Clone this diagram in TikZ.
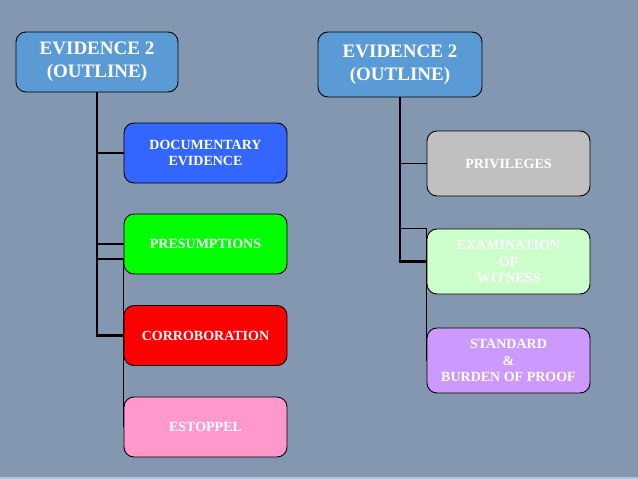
\documentclass[tikz,border=0pt]{standalone}
\usepackage{fontspec}
\setmainfont{Liberation Serif}
\definecolor{bg}{HTML}{8497B0}
\definecolor{strip}{HTML}{B4C3D8}
\definecolor{rootc}{HTML}{5B9BD5}
\definecolor{docc}{HTML}{3366FF}
\definecolor{presc}{HTML}{00FF00}
\definecolor{corrc}{HTML}{FF0000}
\definecolor{estc}{HTML}{FF99CC}
\definecolor{privc}{HTML}{C0C0C0}
\definecolor{examc}{HTML}{CCFFCC}
\definecolor{stdc}{HTML}{CC99FF}
\tikzset{
  box/.style={draw=black, line width=0.9pt, rounded corners=10pt, text=white,
    font=\bfseries\fontsize{14}{16.8}\selectfont, align=center, inner sep=0pt},
  rootbox/.style={box, fill=rootc, font=\bfseries\fontsize{19}{23}\selectfont},
  trunk/.style={draw=black, line width=2.6pt},
  branch/.style={draw=black, line width=1.8pt},
}
\begin{document}
\begin{tikzpicture}[x=1pt,y=-1pt]
\fill[bg] (0,0) rectangle (638,479);
\fill[strip] (0,476.5) rectangle (638,479);
\useasboundingbox (0,0) rectangle (638,479);

% left tree
\node[rootbox, minimum width=162pt, minimum height=60pt] (r1) at (97,62) {EVIDENCE 2\\(OUTLINE)};
\node[box, fill=docc, minimum width=163pt, minimum height=60pt] (doc) at (205.5,153) {DOCUMENTARY\\EVIDENCE};
\node[box, fill=presc, minimum width=163pt, minimum height=60pt] (pres) at (205.5,244) {PRESUMPTIONS};
\node[box, fill=corrc, minimum width=163pt, minimum height=60pt] (corr) at (205.5,335.5) {CORROBORATION};
\node[box, fill=estc, minimum width=163pt, minimum height=60pt] (est) at (205.5,427) {ESTOPPEL};
\coordinate (k1) at (123.5,259);

% right tree
\node[rootbox, minimum width=164pt, minimum height=65pt] (r2) at (400,64.5) {EVIDENCE 2\\(OUTLINE)};
\node[box, fill=privc, minimum width=163pt, minimum height=65pt] (priv) at (508.5,163.5) {PRIVILEGES};
\node[box, fill=examc, minimum width=163pt, minimum height=65pt] (exam) at (508.5,261.5) {EXAMINATION\\OF\\ WITNESS};
\node[box, fill=stdc, minimum width=163pt, minimum height=65pt] (std) at (508.5,360.5) {STANDARD\\\&\\BURDEN OF PROOF};

% left connectors
\draw[trunk] (r1.south) |- (corr.west);
\draw[branch] (r1.south |- doc.west) -- (doc.west);
\draw[branch] (r1.south |- pres.west) -- (pres.west);
\draw[branch] (r1.south |- k1) -- (k1) -- (k1 |- est.west);
% right connectors
\draw[trunk] (r2.south) |- (exam.west);
\draw[branch] (r2.south |- priv.west) -- (priv.west);
\draw[branch] (r2.south |- exam.north west) -- (exam.north west) -- (exam.north west |- std.west);
\end{tikzpicture}
\end{document}
